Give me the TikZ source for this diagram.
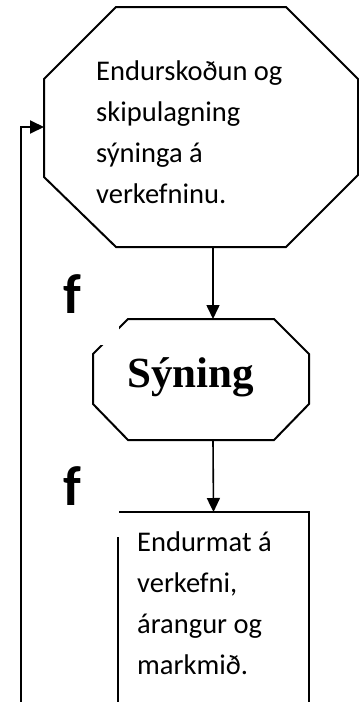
\documentclass[tikz,border=0pt]{standalone}
\usepackage{fontspec}
\setmainfont{Carlito}
\newfontfamily\serifbold{Liberation Serif}
\usetikzlibrary{calc,arrows.meta}
\begin{document}
\begin{tikzpicture}[x=1pt,y=-1pt,
  area/.style={inner sep=0pt, outer sep=0pt},
  outline/.style={draw, line width=2pt, inner sep=0pt, outer sep=0pt},
  edge/.style={line width=2pt, line join=miter},
  body/.style={font=\fontsize{28.5}{41}\selectfont, align=left, inner sep=0pt, anchor=base west},
  arr/.style={-{Triangle[length=14pt,width=13pt]}, line width=1.6pt},
  fbox/.style={fill=white, inner sep=0pt, minimum width=78pt, minimum height=90pt},
  flabel/.style={font=\bfseries\fontsize{56}{56}\selectfont, inner sep=0pt, anchor=base west}]
\useasboundingbox (0,0) rectangle (359,702);
% shape areas
\node[area, minimum width=314pt, minimum height=240pt] (rev) at (201,127) {};
\node[area, minimum width=216pt, minimum height=121pt] (show) at (201,379.5) {};
\node[outline, minimum width=191pt, minimum height=220pt] (eval) at (213.5,622) {};
% octagon outlines
\draw[edge] ($(rev.north west)+(72,0)$) -- ($(rev.north east)+(-72,0)$)
  -- ($(rev.north east)+(0,72)$) -- ($(rev.south east)+(0,-72)$)
  -- ($(rev.south east)+(-72,0)$) -- ($(rev.south west)+(72,0)$)
  -- ($(rev.south west)+(0,-70)$) -- ($(rev.north west)+(0,72)$) -- cycle;
\draw[edge] ($(show.north west)+(35,0)$) -- ($(show.north east)+(-35,0)$)
  -- ($(show.north east)+(0,35)$) -- ($(show.south east)+(0,-36)$)
  -- ($(show.south east)+(-35,0)$) -- ($(show.south west)+(35,0)$)
  -- ($(show.south west)+(0,-36)$) -- ($(show.north west)+(0,35)$) -- cycle;
% texts
\node[body] (t1) at (96,203) {Endurskoðun og\\skipulagning\\sýninga á\\verkefninu.};
\node[font=\serifbold\bfseries\fontsize{43}{43}\selectfont, inner sep=0pt, anchor=base west] (t2) at (127,387) {Sýning};
\node[body] (t3) at (137,674) {Endurmat á\\verkefni,\\árangur og\\markmið.};
% f text boxes
\node[fbox] (f1) at (80,300) {};
\node[flabel] (f1t) at (63,313) {f};
\node[fbox] (f2) at (80,492) {};
\node[flabel] (f2t) at (63,505) {f};
% connectors
\draw[arr] ([xshift=12pt]rev.south) -- ([xshift=12pt]show.north);
\draw[arr] ([xshift=12pt]show.south) -- (eval.north);
\coordinate (loopstart) at (21,702);
\draw[arr, line width=2pt] (loopstart) |- (rev.west);
\end{tikzpicture}
\end{document}
